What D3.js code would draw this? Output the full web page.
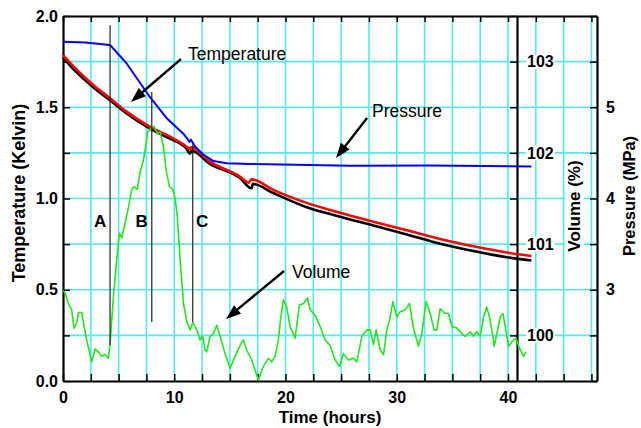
<!DOCTYPE html>
<html>
<head>
<meta charset="utf-8">
<script src="https://cdn.jsdelivr.net/npm/d3@7"></script>
<style>
body { margin: 0; background: #fff; }
text { font-family: "Liberation Sans", Arial, Helvetica, sans-serif; }
</style>
</head>
<body>
<div id="chart"></div>
<script>
/*** Data ***/
// temperature, red trace (Kelvin)
var tempRedTime = [0, 1, 2.72, 4.23, 5.72, 7.82, 9.62, 11.12, 11.4, 11.5, 13.2, 15.9, 16.7, 16.95, 18.9, 21.9, 24.9, 27.9, 30.9, 33.9, 36.9, 39.9, 42.1];
var tempRed = [1.785, 1.72, 1.622, 1.549, 1.476, 1.393, 1.339, 1.284, 1.27, 1.28, 1.202, 1.12, 1.087, 1.105, 1.047, 0.976, 0.922, 0.873, 0.826, 0.778, 0.738, 0.704, 0.685];
// temperature, black trace (Kelvin)
var tempBlackTime = [0, 1, 2.72, 4.23, 5.72, 7.82, 9.62, 11.12, 11.4, 11.55, 13.2, 15.9, 16.96, 17.05, 18.9, 21.9, 24.9, 27.9, 30.9, 33.9, 36.9, 39.9, 42.1];
var tempBlack = [1.772, 1.705, 1.61, 1.538, 1.466, 1.383, 1.328, 1.272, 1.245, 1.262, 1.19, 1.112, 1.056, 1.08, 1.03, 0.952, 0.90, 0.852, 0.803, 0.752, 0.712, 0.678, 0.66];
// pressure (MPa)
var pressTime = [0, 2, 4.23, 5.72, 7.82, 9.32, 10.82, 11.2, 11.36, 11.5, 11.87, 12.62, 13.52, 14.72, 16.8, 25.8, 33, 42.1];
var pressure = [5.718, 5.71, 5.682, 5.48, 5.11, 4.88, 4.71, 4.65, 4.62, 4.645, 4.57, 4.48, 4.41, 4.386, 4.378, 4.36, 4.362, 4.35];
// volume (%)
var volTime = [0, 0.18, 0.48, 0.78, 0.99, 1.23, 1.38, 1.68, 1.89, 2.13, 2.43, 2.58, 2.88, 3.18, 3.48, 3.78, 4.08, 4.23, 4.53, 4.83,
  5.07, 5.28, 5.58, 5.88, 6.18, 6.39, 6.68, 6.93, 7.23, 7.47, 7.6, 7.9, 8.19, 8.49, 8.73, 9.03, 9.27, 9.57, 9.87, 10.08,
  10.28, 10.53, 10.83, 11.13, 11.43, 11.67, 12.03, 12.32, 12.56, 12.77, 12.92, 13.22, 13.52, 13.82, 14.12, 14.57, 15.02, 15.47, 15.92, 16.21,
  16.51, 16.96, 17.56, 18.01, 18.46, 18.76, 19.06, 19.36, 19.57, 19.81, 20.11, 20.41, 20.86, 21.25, 21.61, 21.97, 22.21, 22.66, 23.11, 23.56,
  24.01, 24.46, 24.85, 25.21, 25.66, 26.11, 26.41, 26.86, 27.31, 27.61, 27.91, 28.15, 28.51, 28.81, 29.11, 29.41, 29.65, 30.01, 30.31, 30.76,
  31.15, 31.5, 31.95, 32.25, 32.64, 33.0, 33.36, 33.6, 33.9, 34.35, 34.65, 34.95, 35.4, 35.85, 36.15, 36.6, 36.9, 37.2, 37.5, 37.8,
  38.1, 38.34, 38.64, 38.76, 39.0, 39.3, 39.54, 39.75, 40.05, 40.35, 40.71, 41.03, 41.39, 41.63];
var volume = [100.49, 100.47, 100.35, 100.28, 100.08, 100.14, 100.25, 100.25, 100.1, 99.95, 99.79, 99.71, 99.85, 99.82, 99.77, 99.79, 99.75, 99.91, 100.42, 100.83,
  101.12, 101.07, 101.23, 101.4, 101.6, 101.63, 101.6, 101.79, 101.92, 102.1, 102.23, 102.27, 102.29, 102.21, 102.23, 102.07, 101.81, 101.63, 101.6, 101.5,
  101.3, 100.83, 100.35, 100.15, 100.06, 100.14, 100.06, 99.95, 99.99, 99.84, 99.82, 99.99, 100.02, 100.11, 99.99, 99.8, 99.64, 99.77, 99.89, 99.95,
  99.84, 99.73, 99.51, 99.66, 99.75, 99.71, 99.77, 99.95, 100.19, 100.39, 100.31, 100.1, 99.97, 100.33, 100.35, 100.41, 100.28, 100.22, 100.1, 99.95,
  99.89, 99.73, 99.66, 99.8, 99.73, 99.75, 99.71, 99.99, 100.06, 100.06, 99.9, 100.06, 99.84, 99.79, 100.06, 100.2, 100.37, 100.2, 100.26, 100.28,
  100.35, 100.08, 99.88, 100.02, 100.37, 100.24, 100.06, 100.06, 100.29, 100.24, 100.24, 100.1, 100.08, 100.02, 99.99, 100.04, 99.99, 100.04, 99.99, 100.2,
  100.31, 100.2, 99.99, 99.88, 100.02, 100.2, 100.24, 100.1, 99.88, 99.93, 99.97, 99.86, 99.77, 99.82];

// event markers A, B, C (time, and temperature span of the line)
var eventNames = ["A", "B", "C"];
var eventTime = [4.23, 7.98, 11.66];
var eventTop = [1.95, 1.584, 1.296];
var eventBottom = [0.197, 0.323, 0.323];
var eventLabelTime = [3.33, 7.08, 12.5];

// tick labels
var timeLabels = [0, 10, 20, 30, 40];
var tempLabels = [0, 0.5, 1, 1.5, 2];
var volLabels = [100, 101, 102, 103];
var pressLabels = [3, 4, 5];

/*** Layout ***/
var W = 641, H = 428;
var M = {l: 63, r: 597, t: 16, b: 381};
var volAxisX = 517;
var gridColor = "#55eaf2";
var font = "\"Liberation Sans\", Arial, Helvetica, sans-serif";

var x = d3.scaleLinear().domain([0, 48]).range([M.l, M.r]);
var yT = d3.scaleLinear().domain([0, 2]).range([M.b, M.t]);
var yV = d3.scaleLinear().domain([99.5, 103.5]).range([M.b, M.t]);
var yP = d3.scaleLinear().domain([2, 6]).range([M.b, M.t]);

var svg = d3.select("#chart").append("svg").attr("width", W).attr("height", H);

/*** Grid ***/
var grid = svg.append("g");
grid.selectAll("line.h")
  .data(d3.range(0.25, 2, 0.25))
  .enter().append("line")
  .attr("x1", M.l).attr("x2", M.r)
  .attr("y1", function(d) { return yT(d); })
  .attr("y2", function(d) { return yT(d); })
  .attr("stroke", gridColor).attr("stroke-width", 1.6);
grid.selectAll("line.v")
  .data(d3.range(2.5, 48, 2.5))
  .enter().append("line")
  .attr("y1", M.t).attr("y2", M.b)
  .attr("x1", function(d) { return x(d); })
  .attr("x2", function(d) { return x(d); })
  .attr("stroke", gridColor).attr("stroke-width", 1.6);

/*** Axes ***/
function inList(list) {
  return function(d) {
    for (var i = 0; i < list.length; i++) {
      if (Math.abs(list[i] - d) < 1e-6) return true;
    }
    return false;
  };
}
function styleAxis(g) {
  g.attr("font-family", font);
  g.select(".domain").attr("stroke", "#000").attr("stroke-width", 2.2);
  g.selectAll(".tick line").attr("stroke", "#000").attr("stroke-width", 1.5);
  g.selectAll(".tick text").attr("font-size", 16).attr("font-weight", "bold").attr("fill", "#000");
}

var isTempLabel = inList(tempLabels);
var yAxis = d3.axisLeft(yT).tickValues(d3.range(0, 2.001, 0.25)).tickSize(-7).tickSizeOuter(0).tickPadding(5)
  .tickFormat(function(d) { return isTempLabel(d) ? d.toFixed(1) : ""; });
svg.append("g").attr("transform", "translate(" + M.l + ",0)").call(yAxis).call(styleAxis);

var isTimeLabel = inList(timeLabels);
var xAxis = d3.axisBottom(x).tickValues(d3.range(0, 47.6, 2.5)).tickSize(-7).tickSizeOuter(0).tickPadding(11)
  .tickFormat(function(d) { return isTimeLabel(d) ? d : ""; });
svg.append("g").attr("transform", "translate(0," + M.b + ")").call(xAxis).call(styleAxis);

var xTop = d3.axisTop(x).tickValues(d3.range(0, 47.6, 2.5)).tickSize(-6).tickSizeOuter(0).tickFormat("");
svg.append("g").attr("transform", "translate(0," + M.t + ")").call(xTop).call(styleAxis);

var isPressLabel = inList(pressLabels);
var pAxis = d3.axisRight(yP).tickValues(d3.range(2, 6.01, 0.5)).tickSize(-7).tickSizeOuter(0).tickPadding(9)
  .tickFormat(function(d) { return isPressLabel(d) ? d : ""; });
svg.append("g").attr("transform", "translate(" + M.r + ",0)").call(pAxis).call(styleAxis);

var isVolLabel = inList(volLabels);
var vAxis = d3.axisRight(yV).tickValues(d3.range(99.5, 103.51, 0.5)).tickSize(-7).tickSizeOuter(0).tickPadding(10)
  .tickFormat(function(d) { return isVolLabel(d) ? d : ""; });
var vg = svg.append("g").attr("transform", "translate(" + volAxisX + ",0)").call(vAxis).call(styleAxis);
// white box behind the volume labels (they break the grid)
vg.selectAll(".tick text").each(function() {
  var t = this.textContent;
  if (!t) return;
  var b = this.getBBox();
  d3.select(this.parentNode).insert("rect", "text")
    .attr("x", b.x - 1).attr("y", b.y + 1).attr("width", b.width + 2).attr("height", b.height - 2)
    .attr("fill", "#fff");
});

/*** Axis titles ***/
function title(txt, tx, ty, rot, size) {
  var t = svg.append("text")
    .attr("transform", "translate(" + tx + "," + ty + ")" + (rot ? " rotate(-90)" : ""))
    .attr("text-anchor", "middle")
    .attr("font-size", size).attr("font-weight", "bold").attr("fill", "#000")
    .text(txt);
  return t;
}
title("Temperature (Kelvin)", 25, 193, true, 18);
title("Time (hours)", 330, 423, false, 17);
title("Pressure (MPa)", 635, 196, true, 16.5);
var vt = title("Volume (%)", 580, 206, true, 17);
var vb = vt.node().getBBox();
svg.insert("rect", function() { return vt.node(); })
  .attr("transform", "translate(580,206) rotate(-90)")
  .attr("x", vb.x - 2).attr("y", vb.y).attr("width", vb.width + 4).attr("height", vb.height)
  .attr("fill", "#fff");

/*** Curves ***/
function zipLine(ts, vs, yScale, curve) {
  return d3.line()
    .curve(curve || d3.curveLinear)
    .x(function(d, i) { return x(ts[i]); })
    .y(function(d, i) { return yScale(vs[i]); })(vs);
}
svg.append("path").attr("d", zipLine(tempBlackTime, tempBlack, yT, d3.curveMonotoneX))
  .attr("fill", "none").attr("stroke", "#000").attr("stroke-width", 2.6).attr("stroke-linejoin", "round");
svg.append("path").attr("d", zipLine(tempRedTime, tempRed, yT, d3.curveMonotoneX))
  .attr("fill", "none").attr("stroke", "#ff0000").attr("stroke-width", 2.6).attr("stroke-linejoin", "round");
svg.append("path").attr("d", zipLine(pressTime, pressure, yP))
  .attr("fill", "none").attr("stroke", "#0000ff").attr("stroke-width", 2).attr("stroke-linejoin", "round");
svg.append("path").attr("d", zipLine(volTime, volume, yV))
  .attr("fill", "none").attr("stroke", "#22e622").attr("stroke-width", 1.6).attr("stroke-linejoin", "round");

/*** Event lines A, B, C ***/
svg.selectAll("line.ev")
  .data(eventTime)
  .enter().append("line")
  .attr("x1", function(d) { return x(d); })
  .attr("x2", function(d) { return x(d); })
  .attr("y1", function(d, i) { return yT(eventTop[i]); })
  .attr("y2", function(d, i) { return yT(eventBottom[i]); })
  .attr("stroke", "#222").attr("stroke-width", 1.2);
svg.selectAll("text.ev")
  .data(eventNames)
  .enter().append("text")
  .attr("x", function(d, i) { return x(eventLabelTime[i]); })
  .attr("y", yT(0.844))
  .attr("text-anchor", "middle")
  .attr("font-size", 17).attr("font-weight", "bold")
  .text(function(d) { return d; });

/*** Annotations with arrows ***/
var noteText = ["Temperature", "Pressure", "Volume"];
var noteAt = [[11.24, 1.759], [27.78, 1.447], [20.58, 0.564]];
var arrowFrom = [[10.6, 1.764], [27.33, 1.441], [19.87, 0.603]];
var arrowTo = [[6.11, 1.529], [24.54, 1.222], [14.65, 0.34]];

function arrow(a, b) {
  var x1 = x(a[0]), y1 = yT(a[1]), x2 = x(b[0]), y2 = yT(b[1]);
  var dx = x2 - x1, dy = y2 - y1, len = Math.sqrt(dx * dx + dy * dy);
  var ux = dx / len, uy = dy / len, hl = 15, hw = 5.5;
  var bx = x2 - ux * hl, by = y2 - uy * hl;
  svg.append("line").attr("x1", x1).attr("y1", y1).attr("x2", bx + ux * 2).attr("y2", by + uy * 2)
    .attr("stroke", "#000").attr("stroke-width", 2.4);
  svg.append("path")
    .attr("d", "M" + x2 + "," + y2 + "L" + (bx - uy * hw) + "," + (by + ux * hw) + "L" + (bx + uy * hw) + "," + (by - ux * hw) + "Z")
    .attr("fill", "#000");
}
for (var i = 0; i < noteText.length; i++) {
  svg.append("text")
    .attr("x", x(noteAt[i][0])).attr("y", yT(noteAt[i][1]))
    .attr("font-size", 17.5).attr("fill", "#000")
    .text(noteText[i]);
  arrow(arrowFrom[i], arrowTo[i]);
}
</script>
</body>
</html>
